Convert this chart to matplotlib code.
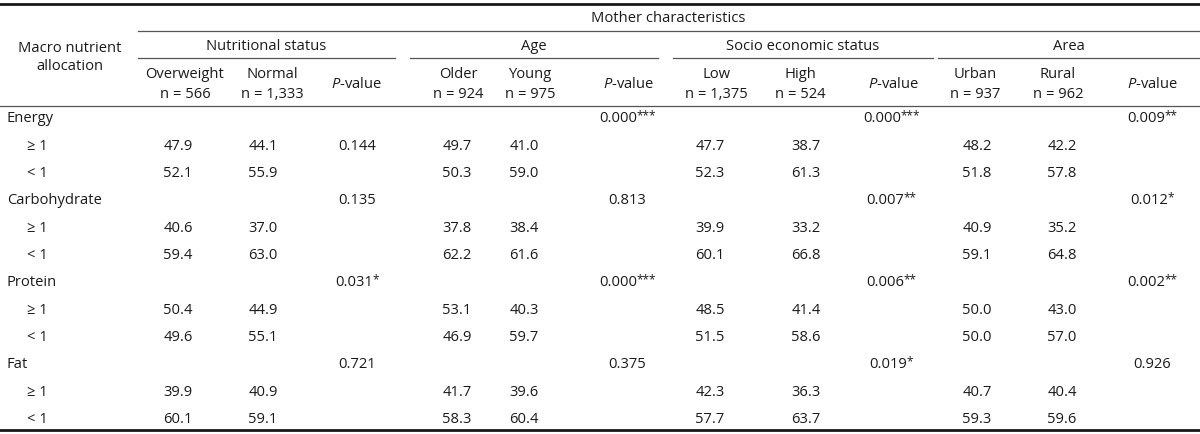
import matplotlib.pyplot as plt

# table content
nutrients = ['Energy', 'Carbohydrate', 'Protein', 'Fat']
groups = ['Nutritional status', 'Age', 'Socio economic status', 'Area']
sub_names = ['Overweight', 'Normal', 'Older', 'Young', 'Low', 'High', 'Urban', 'Rural']
sub_n = ['n = 566', 'n = 1,333', 'n = 924', 'n = 975', 'n = 1,375', 'n = 524', 'n = 937', 'n = 962']

ge1 = [
    [47.9, 44.1, 49.7, 41.0, 47.7, 38.7, 48.2, 42.2],
    [40.6, 37.0, 37.8, 38.4, 39.9, 33.2, 40.9, 35.2],
    [50.4, 44.9, 53.1, 40.3, 48.5, 41.4, 50.0, 43.0],
    [39.9, 40.9, 41.7, 39.6, 42.3, 36.3, 40.7, 40.4],
]
lt1 = [
    [52.1, 55.9, 50.3, 59.0, 52.3, 61.3, 51.8, 57.8],
    [59.4, 63.0, 62.2, 61.6, 60.1, 66.8, 59.1, 64.8],
    [49.6, 55.1, 46.9, 59.7, 51.5, 58.6, 50.0, 57.0],
    [60.1, 59.1, 58.3, 60.4, 57.7, 63.7, 59.3, 59.6],
]
pvals = [
    ['0.144', '0.000', '0.000', '0.009'],
    ['0.135', '0.813', '0.007', '0.012'],
    ['0.031', '0.000', '0.006', '0.002'],
    ['0.721', '0.375', '0.019', '0.926'],
]
pstars = [
    ['', '***', '***', '**'],
    ['', '', '**', '*'],
    ['*', '***', '**', '**'],
    ['', '', '*', ''],
]

plt.rcParams['font.family'] = ['Open Sans', 'DejaVu Sans']
plt.rcParams['mathtext.fontset'] = 'custom'
plt.rcParams['mathtext.rm'] = 'Open Sans'
plt.rcParams['mathtext.it'] = 'Open Sans:italic'

fig = plt.figure(figsize=(12, 4.35), dpi=100)
ax = fig.add_axes([0, 0, 1, 1])
ax.set_xlim(0, 1200)
ax.set_ylim(435, 0)
ax.axis('off')

fs = 10.6
col = '#1a1a1a'
gray = '#555555'

# column positions
head_x = [185, 272, 356, 458, 530, 628, 716, 800, 893, 975, 1058, 1152]
data_x = [178, 263, 357, 457, 524, 627, 710, 806, 891, 977, 1062, 1152]
group_span = [(138, 395), (410, 658), (673, 933), (938, 1200)]

# rules
ax.plot([0, 1200], [5, 5], color=col, lw=2)
ax.plot([138, 1200], [32, 32], color=gray, lw=0.9)
for a, b in group_span:
    ax.plot([a, b], [59, 59], color=gray, lw=0.9)
ax.plot([0, 1200], [107, 107], color=gray, lw=0.9)
ax.plot([0, 1200], [431, 431], color=col, lw=2)

# header
ax.text(70, 48, 'Macro nutrient', ha='center', va='center', fontsize=fs, color=col)
ax.text(70, 66, 'allocation', ha='center', va='center', fontsize=fs, color=col)
ax.text(668, 19, 'Mother characteristics', ha='center', va='center', fontsize=fs, color=col)
for g, (a, b) in zip(groups, group_span):
    ax.text((a + b) / 2, 46, g, ha='center', va='center', fontsize=fs, color=col)
for i in range(4):
    for j in range(2):
        x = head_x[i * 3 + j]
        ax.text(x, 75, sub_names[i * 2 + j], ha='center', va='center', fontsize=fs, color=col)
        ax.text(x, 94, sub_n[i * 2 + j], ha='center', va='center', fontsize=fs, color=col)
    ax.text(head_x[i * 3 + 2], 85, r'$\mathit{P}$-value', ha='center', va='center',
            fontsize=fs, color=col)

# body
y0 = 119
step = 27.3
for k, name in enumerate(nutrients):
    yc = y0 + k * 3 * step
    ax.text(7, yc, name, ha='left', va='center', fontsize=fs, color=col)
    ax.text(27, yc + step, '\u2265 1', ha='left', va='center', fontsize=fs, color=col)
    ax.text(27, yc + 2 * step, '< 1', ha='left', va='center', fontsize=fs, color=col)
    for i in range(4):
        for j in range(2):
            x = data_x[i * 3 + j]
            ax.text(x, yc + step, f'{ge1[k][i * 2 + j]:.1f}', ha='center', va='center',
                    fontsize=fs, color=col)
            ax.text(x, yc + 2 * step, f'{lt1[k][i * 2 + j]:.1f}', ha='center', va='center',
                    fontsize=fs, color=col)
        # p-value (Energy/nutritional status sits on the >= 1 row in the source)
        py = yc + step if (k == 0 and i == 0) else yc
        stars = pstars[k][i]
        px = data_x[i * 3 + 2] - 2.8 * len(stars)
        t = ax.text(px, py, pvals[k][i], ha='center', va='center', fontsize=fs, color=col)
        if stars:
            ax.annotate(stars, xy=(1, 1), xycoords=t, xytext=(-0.6, 1.5),
                        textcoords='offset points', ha='left', va='top',
                        fontsize=fs * 0.8, color=col)

fig.savefig('out.png', dpi=100)
